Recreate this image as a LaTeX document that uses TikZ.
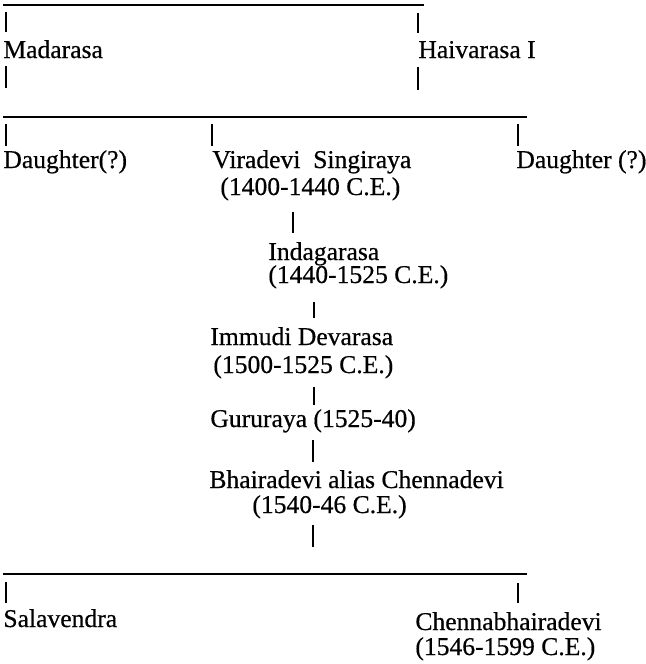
\documentclass[tikz,border=0pt]{standalone}
\usepackage{fontspec}
\setmainfont{Liberation Serif}[BoldFont=Liberation Serif,BoldFeatures={FakeBold=0.5}]
\begin{document}
\begin{tikzpicture}[x=0.5pt,y=-0.5pt,
  lbl/.style={inner sep=0pt,anchor=base west,font=\fontsize{12.8}{14}\selectfont\bfseries},
  bar/.style={line width=0.75pt},
  stem/.style={line width=0.6pt}]
\useasboundingbox[fill=white] (0,0) rectangle (646,664);
% labels
\node[lbl] (mad) at (3,58) {Madarasa};
\node[lbl] (hai) at (418,58) {Haivarasa I};
\node[lbl] (dau1) at (3,168) {Daughter(?)};
\node[lbl] (vir) at (212,168) {Viradevi\ \ Singiraya};
\node[lbl] (virD) at (220,195) {(1400-1440 C.E.)};
\node[lbl] (dau2) at (516,168) {Daughter (?)};
\node[lbl] (ind) at (268,260) {Indagarasa};
\node[lbl] (indD) at (268,283) {(1440-1525 C.E.)};
\node[lbl] (imm) at (210,345) {Immudi Devarasa};
\node[lbl] (immD) at (213,373) {(1500-1525 C.E.)};
\node[lbl] (gur) at (210,427) {Gururaya (1525-40)};
\node[lbl] (bha) at (209,488) {Bhairadevi alias Chennadevi};
\node[lbl] (bhaD) at (252,513) {(1540-46 C.E.)};
\node[lbl] (sal) at (3,627) {Salavendra};
\node[lbl] (che) at (415,630) {Chennabhairadevi};
\node[lbl] (cheD) at (415,655) {(1546-1599 C.E.)};
% bars
\coordinate (b1l) at (3,5);   \coordinate (b1r) at (424,5);
\coordinate (b2l) at (3,117); \coordinate (b2r) at (527,117);
\coordinate (b3l) at (3,574); \coordinate (b3r) at (527,574);
\draw[bar] (b1l) -- (b1r);
\draw[bar] (b2l) -- (b2r);
\draw[bar] (b3l) -- (b3r);
% stems
\coordinate (s1a) at (6,12);    \coordinate (s1b) at (6,32);
\coordinate (s2a) at (6,66);    \coordinate (s2b) at (6,88);
\coordinate (s3a) at (418,13);  \coordinate (s3b) at (418,33);
\coordinate (s4a) at (418,67);  \coordinate (s4b) at (418,90);
\coordinate (s5a) at (6,124);   \coordinate (s5b) at (6,146);
\coordinate (s6a) at (212,124); \coordinate (s6b) at (212,146);
\coordinate (s7a) at (518,124); \coordinate (s7b) at (518,146);
\coordinate (s8a) at (293,212); \coordinate (s8b) at (293,233);
\coordinate (s9a) at (314,302); \coordinate (s9b) at (314,318);
\coordinate (s10a) at (314,387); \coordinate (s10b) at (314,405);
\coordinate (s11a) at (313,440); \coordinate (s11b) at (313,462);
\coordinate (s12a) at (313,525); \coordinate (s12b) at (313,547);
\coordinate (s13a) at (6,582);   \coordinate (s13b) at (6,603);
\coordinate (s14a) at (518,583); \coordinate (s14b) at (518,603);
\foreach \i in {1,...,14} {\draw[stem] (s\i a) -- (s\i b);}
\end{tikzpicture}
\end{document}
